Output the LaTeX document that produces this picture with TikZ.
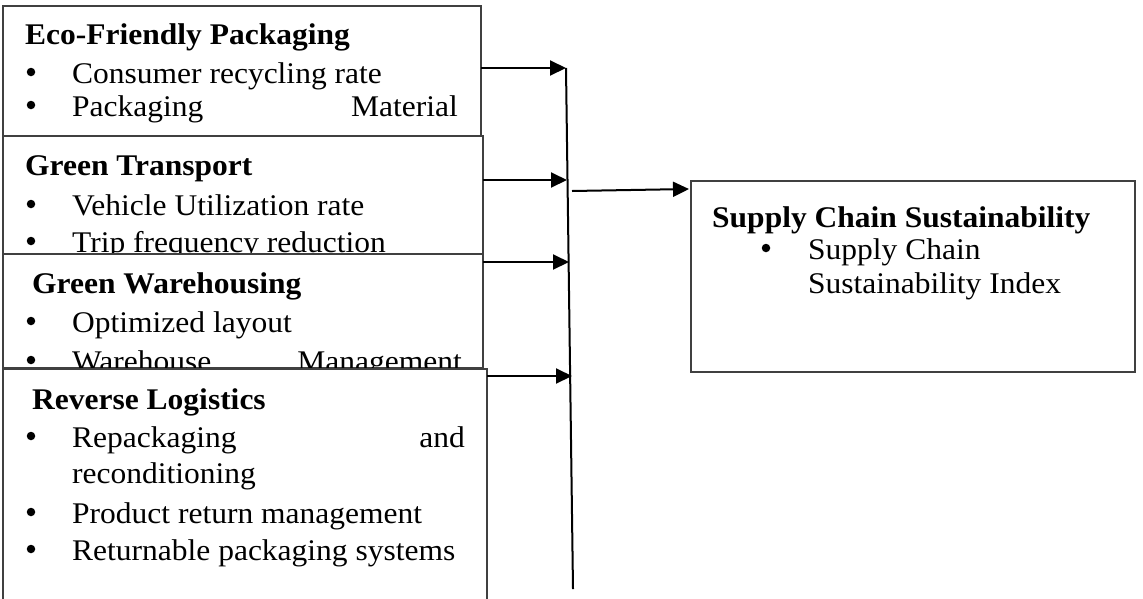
\documentclass[tikz,border=0pt]{standalone}
\usepackage{fontspec}
\setmainfont{Liberation Serif}[FakeStretch=1.05]
\usetikzlibrary{arrows.meta}
\begin{document}
\begin{tikzpicture}[x=1pt,y=-1pt,
  font=\fontsize{30}{36}\selectfont,
  box/.style={draw=black!75, line width=1.2pt, fill=white, rectangle, inner sep=0pt, outer sep=0pt, anchor=north west},
  txt/.style={inner sep=0pt, anchor=base west},
  rtxt/.style={inner sep=0pt, anchor=base east},
  bul/.style={circle, fill=black, inner sep=0pt, minimum size=8.5pt},
  arr/.style={line width=2pt, -{Triangle[length=16pt,width=15pt]}},
  spine/.style={line width=2pt}]
\useasboundingbox (0,0) rectangle (1143,598);

% Box 1
\node[box, minimum width=478pt, minimum height=130pt] (b1) at (3,6) {};
\node[txt] (h1) at (25,44) {\textbf{Eco-Friendly Packaging}};
\node[bul] (p1a) at (31,72) {};
\node[txt] (t1a) at (72,83) {Consumer recycling rate};
\node[bul] (p1b) at (31,105) {};
\node[txt] (t1b) at (72,116) {Packaging};
\node[rtxt] (t1c) at (458,116) {Material};

% Box 2
\node[box, minimum width=480pt, minimum height=118pt] (b2) at (3,136) {};
\node[txt] (h2) at (25,175) {\textbf{Green Transport}};
\node[bul] (p2a) at (31,204) {};
\node[txt] (t2a) at (72,215) {Vehicle Utilization rate};
\node[bul] (p2b) at (31,241) {};
\node[txt] (t2b) at (72,252) {Trip frequency reduction};

% Box 3
\node[box, minimum width=480pt, minimum height=114pt] (b3) at (3,254) {};
\node[txt] (h3) at (32,293) {\textbf{Green Warehousing}};
\node[bul] (p3a) at (31,321) {};
\node[txt] (t3a) at (72,332) {Optimized layout};
\node[bul] (p3b) at (31,360) {};
\node[txt] (t3b) at (72,371) {Warehouse};
\node[rtxt] (t3c) at (462,371) {Management};

% Box 4
\node[box, minimum width=484pt, minimum height=260pt] (b4) at (3,369) {};
\node[txt] (h4) at (32,409) {\textbf{Reverse Logistics}};
\node[bul] (p4a) at (31,436) {};
\node[txt] (t4a) at (72,447) {Repackaging};
\node[rtxt] (t4b) at (465,447) {and};
\node[txt] (t4c) at (72,483) {reconditioning};
\node[bul] (p4d) at (31,512) {};
\node[txt] (t4d) at (72,523) {Product return management};
\node[bul] (p4e) at (31,549) {};
\node[txt] (t4e) at (72,560) {Returnable packaging systems};

% Right box
\node[box, minimum width=444pt, minimum height=191pt] (rb) at (691,181) {};
\node[txt] (hr) at (712,227) {\textbf{Supply Chain Sustainability}};
\node[bul] (pr) at (766,248) {};
\node[txt] (tr1) at (808,259) {Supply Chain};
\node[txt] (tr2) at (808,293) {Sustainability Index};

% Spine and arrows
\coordinate (vtop) at (566,68);
\coordinate (vbot) at (573,589);
\draw[spine] (vtop) -- (vbot);
\coordinate (a1) at (566,68);
\coordinate (a2) at (567,180);
\coordinate (a3) at (569,262);
\coordinate (a4) at (572,376);
\draw[arr] (b1.east |- a1) -- (a1);
\draw[arr] (b2.east |- a2) -- (a2);
\draw[arr] (b3.east |- a3) -- (a3);
\draw[arr] (b4.east |- a4) -- (a4);
\coordinate (rs) at (572,191);
\coordinate (re) at (689,189);
\draw[arr] (rs) -- (re);
\end{tikzpicture}
\end{document}
